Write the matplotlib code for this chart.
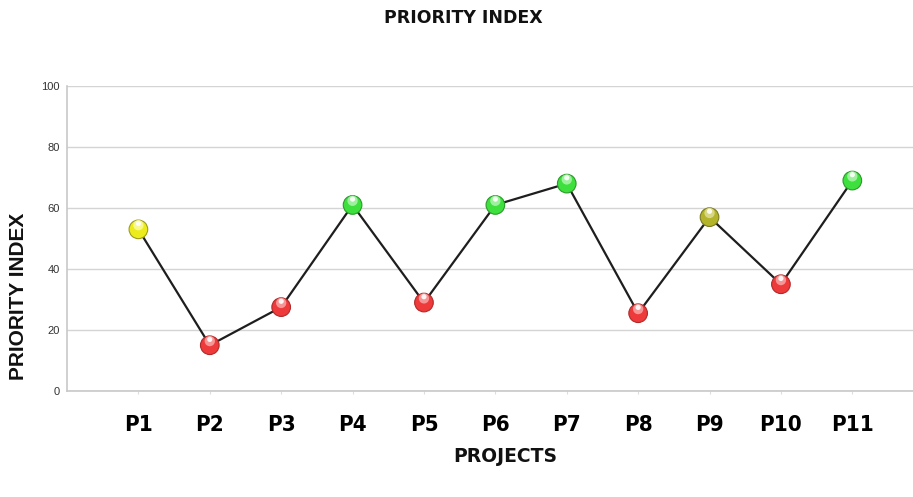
import matplotlib
matplotlib.use("Agg")
import matplotlib.pyplot as plt
from matplotlib.transforms import offset_copy

projects = ["P1", "P2", "P3", "P4", "P5", "P6", "P7", "P8", "P9", "P10", "P11"]
priority = [53, 15, 27.5, 61, 29, 61, 68, 25.5, 57, 35, 69]
status = ["yellow", "red", "red", "green", "red", "green", "green", "red", "olive", "red", "green"]
y_ticks = [0, 20, 40, 60, 80, 100]

base = {"yellow": "#ecec1c", "red": "#ee3a3a", "green": "#3ee03e", "olive": "#b4b42a"}
edge = {"yellow": "#9c9c20", "red": "#b02a2a", "green": "#2a9a2a", "olive": "#7a7a20"}
light = {"yellow": "#fafa9a", "red": "#f8a0a0", "green": "#a8f4a8", "olive": "#dcdc90"}

fig = plt.figure(figsize=(9.13, 4.97), dpi=100)
ax = fig.add_axes([67/913, 106/497, 846/913, 305/497])

x = list(range(len(projects)))
ax.plot(x, priority, color="#1e1e1e", lw=1.6, zorder=3)

cols = [base[s] for s in status]
ecols = [edge[s] for s in status]
lcols = [light[s] for s in status]
ax.scatter(x, priority, s=180, c=cols, edgecolors=ecols, linewidths=0.8, zorder=4)
hl = offset_copy(ax.transData, fig=fig, x=0, y=3, units="points")
ax.scatter(x, priority, s=55, c=lcols, edgecolors="none", zorder=5, transform=hl, alpha=0.9)
hl2 = offset_copy(ax.transData, fig=fig, x=0, y=4.2, units="points")
ax.scatter(x, priority, s=14, c="white", edgecolors="none", zorder=6, transform=hl2, alpha=0.9)

ax.set_xlim(-1.0, 10.85)
ax.set_ylim(0, 100)
ax.set_yticks(y_ticks)
ax.set_yticklabels([str(v) for v in y_ticks], fontsize=8, color="#333333",
                   family=["Liberation Sans", "DejaVu Sans"])
ax.set_xticks(x)
ax.set_xticklabels(projects, fontsize=16, fontweight="bold", fontstretch="condensed",
                   family=["DejaVu Sans"])
ax.tick_params(axis="x", length=2, color="#dddddd", pad=15)
ax.tick_params(axis="y", length=0, pad=5)

ax.grid(axis="y", color="#d4d4d4", lw=1)
ax.set_axisbelow(True)
for sp in ["top", "right"]:
    ax.spines[sp].set_visible(False)
for sp in ["left", "bottom"]:
    ax.spines[sp].set_color("#c8c8c8")
    ax.spines[sp].set_linewidth(1.2)

fig.text(463/913, 1 - 18/497, "PRIORITY INDEX", ha="center", va="center",
         fontsize=12.5, fontweight="bold", family="DejaVu Sans", color="#111111")
fig.text(505/913, 1 - 457/497, "PROJECTS", ha="center", va="center",
         fontsize=13.5, fontweight="bold", family="DejaVu Sans", color="#111111")
fig.text(19/913, 1 - 296/497, "PRIORITY INDEX", ha="center", va="center", rotation=90,
         fontsize=15, fontweight="bold", family="Liberation Sans", color="#111111")

fig.savefig("out.png", dpi=100)
